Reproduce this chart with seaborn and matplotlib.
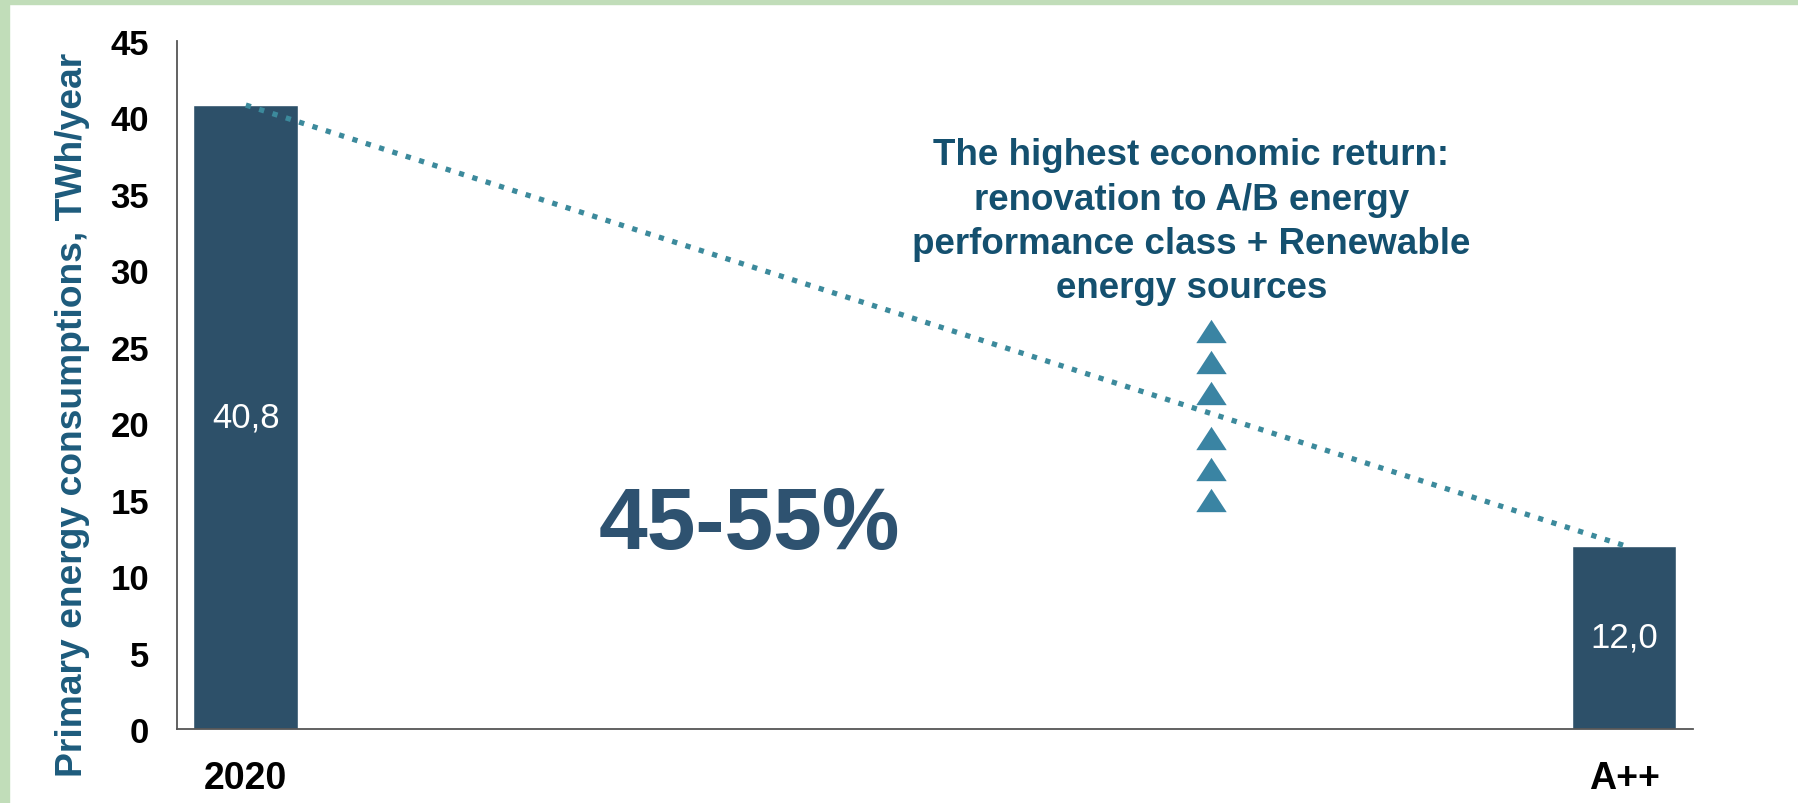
import matplotlib
matplotlib.use('Agg')
import matplotlib.pyplot as plt
import seaborn as sns
from matplotlib.patches import Rectangle

# Chart data
categories = ['2020', 'A++']
consumption = [40.8, 12.0]
bar_labels = ['40,8', '12,0']
arrow_x = [0.7, 0.7, 0.7, 0.7, 0.7, 0.7]
arrow_y = [15, 17, 19, 22, 24, 26]
y_ticks = [0, 5, 10, 15, 20, 25, 30, 35, 40, 45]

sns.set_style('white')
plt.rcParams['font.family'] = ['Liberation Sans', 'DejaVu Sans']

bar_color = '#2D5069'
dot_color = '#3C8A9C'
arrow_color = '#3A84A3'

fig = plt.figure(figsize=(17.98, 8.04), dpi=100)
ax = fig.add_axes([0.0984, 0.092, 0.8432, 0.856])

# Light green frame on top and left
fig.patches.append(Rectangle((0, 1 - 5 / 804), 1, 5 / 804, transform=fig.transFigure,
                             color='#C1DDB9', zorder=0))
fig.patches.append(Rectangle((0, 0), 9 / 1798, 1, transform=fig.transFigure,
                             color='#C1DDB9', zorder=0))

sns.barplot(x=categories, y=consumption, color=bar_color, saturation=1,
            width=0.076, ax=ax, zorder=2)

# Values inside the bars
for i, (v, lab) in enumerate(zip(consumption, bar_labels)):
    ax.text(i, v / 2, lab, ha='center', va='center', color='white', fontsize=25)

# Dotted trend between bar tops
ax.plot(range(len(categories)), consumption, linestyle=':', linewidth=3.8,
        color=dot_color, zorder=3)

# Stack of triangles
tri = [(-15, -11.5), (15, -11.5), (0, 11.5)]
sns.scatterplot(x=arrow_x, y=arrow_y, marker=tri, s=480, color=arrow_color,
                linewidth=0, ax=ax, zorder=4)

ax.text(0.686, 33.2,
        'The highest economic return:\nrenovation to A/B energy\n'
        'performance class + Renewable\nenergy sources',
        ha='center', va='center', fontsize=26.5, fontweight='bold',
        color='#14506F', linespacing=1.35)

ax.text(0.365, 13.3, '45-55%', ha='center', va='center', fontsize=63,
        fontweight='bold', color='#2E5270')

ax.set_xlim(-0.05, 1.05)
ax.set_ylim(0, 45)
ax.set_yticks(y_ticks)
ax.tick_params(axis='y', length=0, pad=20, labelsize=25)
ax.tick_params(axis='x', length=0, pad=22, labelsize=27)
for lab in ax.get_xticklabels() + ax.get_yticklabels():
    lab.set_fontweight('bold')
    lab.set_color('black')

ax.set_ylabel('Primary energy consumptions, TWh/year', fontsize=26.8,
              fontweight='bold', color='#1D5B7C', va='center')
ax.yaxis.set_label_coords(-0.069, 0.458)

for side in ['top', 'right']:
    ax.spines[side].set_visible(False)
for side in ['left', 'bottom']:
    ax.spines[side].set_color('#555555')
    ax.spines[side].set_linewidth(1.3)

fig.savefig('out.png', dpi=100)
